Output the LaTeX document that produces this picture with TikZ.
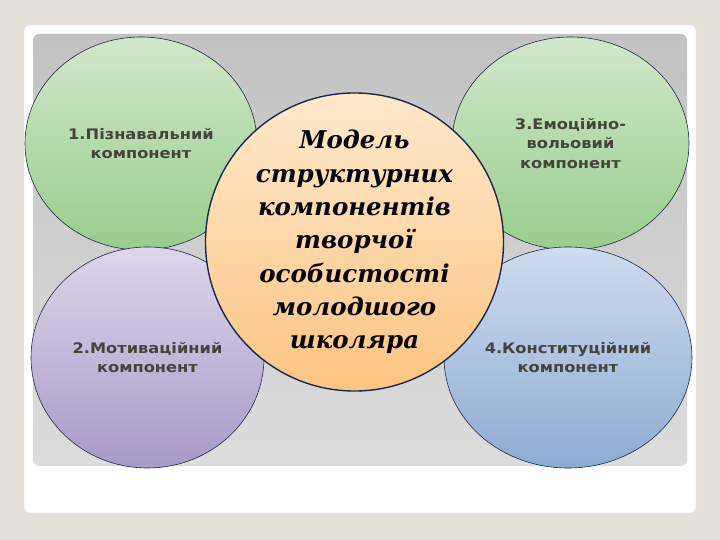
\documentclass[tikz,border=0pt]{standalone}
\usepackage{fontspec}
\usetikzlibrary{shapes.geometric}
\newfontfamily\partfont[FakeStretch=1.12]{DejaVu Sans}
\newfontfamily\modelfont{DejaVu Serif}

\definecolor{pagebg}{HTML}{E6E1D8}
\definecolor{panetop}{HTML}{C2C2C2}
\definecolor{panebottom}{HTML}{DCDCDC}
\definecolor{edgeblue}{HTML}{1C2848}
\definecolor{labeltext}{HTML}{44443A}
\definecolor{greentop}{HTML}{D0E8CB}
\definecolor{greenbottom}{HTML}{98CD8C}
\definecolor{violettop}{HTML}{DDD6EC}
\definecolor{violetbottom}{HTML}{A899C7}
\definecolor{bluetop}{HTML}{CDDCEF}
\definecolor{bluebottom}{HTML}{8DABD2}
\definecolor{orangetop}{HTML}{FFE9CC}
\definecolor{orangebottom}{HTML}{FCC582}

\begin{document}
\begin{tikzpicture}[x=1pt, y=-1pt,
  part/.style={ellipse, draw=edgeblue, line width=0.6pt, inner sep=0pt,
    align=center, text=labeltext,
    font=\partfont\bfseries\fontsize{14.5}{19.5}\selectfont},
  green part/.style={part, top color=greentop, bottom color=greenbottom},
  model/.style={circle, draw=edgeblue, line width=1.4pt, inner sep=0pt,
    minimum size=294pt, align=center, text=black!85!edgeblue,
    top color=orangetop, bottom color=orangebottom,
    font=\modelfont\bfseries\itshape\fontsize{24.5}{33.3}\selectfont}]
\useasboundingbox (0,0) rectangle (720,540);

% slide background
\fill[pagebg] (0,0) rectangle (720,540);
\fill[white, draw=black!12, rounded corners=6pt] (24,25) rectangle (696,513);
\shade[top color=panetop, bottom color=panebottom, rounded corners=6pt]
  (33,34) rectangle (687,466);

% four components
\node[green part, minimum width=232pt, minimum height=213pt]
  (cognitive) at (141,143.5) {1.Пізнавальний\\компонент};
\node[part, minimum width=233pt, minimum height=221pt,
  top color=violettop, bottom color=violetbottom]
  (motivational) at (147.5,357.5) {2.Мотиваційний\\компонент};
\node[green part, minimum width=237pt, minimum height=213pt]
  (emotional) at (570.5,143.5) {3.Емоційно-\\вольовий\\компонент};
\node[part, minimum width=248pt, minimum height=221pt,
  top color=bluetop, bottom color=bluebottom]
  (constitutional) at (568,357.5) {4.Конституційний\\компонент};

% model in the middle
\node[model] (model) at (354.5,242)
  {Модель\\структурних\\компонентів\\творчої\\особистості\\молодшого\\школяра};
\end{tikzpicture}
\end{document}
